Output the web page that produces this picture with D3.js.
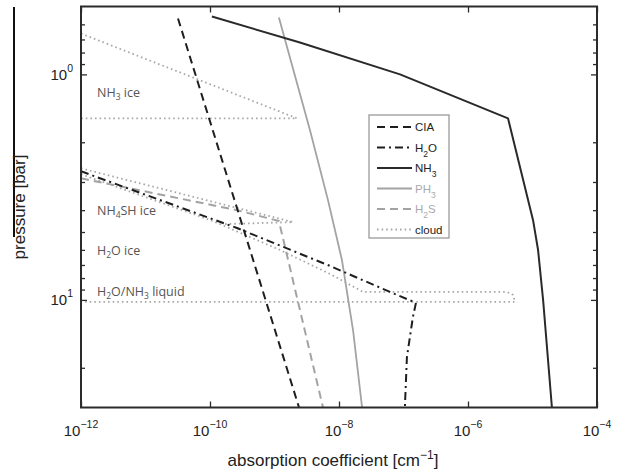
<!DOCTYPE html>
<html><head><meta charset="utf-8">
<script src="https://cdn.jsdelivr.net/npm/d3@7"></script>
<style>body{margin:0;background:#fff}svg{display:block}</style>
</head><body><svg id="c" width="619" height="474"></svg>
<script>
// ---- data (absorption coefficient [cm^-1], pressure [bar]) ----
const xTicks = [1e-12, 1e-10, 1e-8, 1e-6, 1e-4];
const xTickExp = ["\u221212", "\u221210", "\u22128", "\u22126", "\u22124"];
const yTicks = [1, 10];
const yTickExp = ["0", "1"];
const yMinor = [0.6, 0.7, 0.8, 0.9, 2, 3, 4, 5, 6, 7, 8, 9, 20];

const cia = [[3.19e-11, 0.565], [2.40e-9, 30]];
const h2o = [[1e-12, 2.69], [2.62e-10, 4.80], [7.24e-9, 7.07], [6.18e-8, 9.22], [1.56e-7, 10.3], [1.40e-7, 11.9], [1.13e-7, 17.9], [1.05e-7, 30]];
const nh3 = [[1.07e-10, 0.554], [2.48e-9, 0.722], [8.83e-8, 1.0], [4.17e-6, 1.566], [1.02e-5, 4.43], [1.22e-5, 6.01], [1.46e-5, 10], [2.00e-5, 30]];
const ph3 = [[1.17e-9, 0.56], [3.55e-9, 1.77], [6.75e-9, 3.61], [1.11e-8, 6.65], [1.65e-8, 13.6], [2.28e-8, 30]];
const h2s = [[1e-12, 2.89], [2.62e-10, 4.00], [1.17e-9, 4.47], [5.65e-9, 30]];
const cloudNH3 = [[1e-12, 0.659], [2.23e-9, 1.566], [1e-12, 1.566]];
const cloudNH4SH = [[1e-12, 2.61], [1.94e-9, 4.52], [1.71e-10, 4.61]];
const cloudH2O = [[1e-12, 2.77], [1.11e-10, 4.47], [1.22e-9, 6.01], [7.24e-9, 7.67], [2.36e-8, 9.22], [4.03e-6, 9.22], [4.99e-6, 9.50], [5.36e-6, 10.2], [1e-12, 10.2]];

const legendNames = [["CIA", ""], ["H", "2", "O"], ["NH", "3", ""], ["PH", "3", ""], ["H", "2", "S"], ["cloud", ""]];
const regionLabels = [
  {p: 1.26, parts: ["NH", "3", " ice"]},
  {p: 4.2, parts: ["NH", "4", "SH ice"]},
  {p: 6.35, parts: ["H", "2", "O ice"]},
  {p: 9.65, parts: ["H", "2", "O/NH", "3", " liquid"]}
];

// ---- layout ----
const L = 81, R = 597, T = 6.5, B = 407.5;
const svg = d3.select("#c");
const x = d3.scaleLog().domain([1e-12, 1e-4]).range([L, R]);
const y = d3.scaleLog().domain([0.5, 30]).range([T, B]);

svg.append("rect").attr("width", 619).attr("height", 474).attr("fill", "#fff");
svg.append("defs").append("clipPath").attr("id", "clip")
  .append("rect").attr("x", L).attr("y", T).attr("width", R - L).attr("height", B - T);

// scan artifact line at left
svg.append("line").attr("x1", 14).attr("x2", 14).attr("y1", 7).attr("y2", 237)
  .attr("stroke", "#111").attr("stroke-width", 2);

const styles = {
  cia: {stroke: "#1e1e1e", w: 2, dash: "8,5"},
  h2o: {stroke: "#1e1e1e", w: 2, dash: "8,4,2,4"},
  nh3: {stroke: "#2a2a2a", w: 2, dash: null},
  ph3: {stroke: "#a3a3a3", w: 1.8, dash: null},
  h2s: {stroke: "#a3a3a3", w: 2, dash: "8,5"},
  cloud: {stroke: "#a8a8a8", w: 1.8, dash: "1.6,3"}
};

const line = d3.line().x(d => x(d[0])).y(d => y(d[1]));
const g = svg.append("g").attr("clip-path", "url(#clip)");
function draw(data, s) {
  g.append("path").datum(data).attr("d", line).attr("fill", "none")
    .attr("stroke", s.stroke).attr("stroke-width", s.w)
    .attr("stroke-dasharray", s.dash).attr("stroke-linejoin", "round");
}
draw(cloudNH3, styles.cloud);
draw(cloudNH4SH, styles.cloud);
draw(cloudH2O, styles.cloud);
draw(ph3, styles.ph3);
draw(h2s, styles.h2s);
draw(cia, styles.cia);
draw(h2o, styles.h2o);
draw(nh3, styles.nh3);

// region labels
regionLabels.forEach(r => {
  const t = svg.append("text").attr("x", 97).attr("y", y(r.p))
    .attr("font-family", "Open Sans").attr("font-size", 12.5).attr("fill", "#555");
  r.parts.forEach((s, i) => {
    const sub = i % 2 === 1;
    t.append("tspan").text(s).attr("font-size", sub ? 8.5 : 12.5)
      .attr("dy", sub ? 3 : (i > 0 ? -3 : 0));
  });
});

// axes
const axisCol = "#2b2b2b";
function styleAxis(sel) {
  sel.select(".domain").remove();
  sel.selectAll("line").attr("stroke", axisCol).attr("stroke-width", 1.3);
}
svg.append("g").attr("transform", `translate(0,${B})`)
  .call(d3.axisBottom(x).tickValues(xTicks).tickSize(-6).tickFormat("")).call(styleAxis);
svg.append("g").attr("transform", `translate(0,${T})`)
  .call(d3.axisTop(x).tickValues(xTicks).tickSize(-6).tickFormat("")).call(styleAxis);
svg.append("g").attr("transform", `translate(${L},0)`)
  .call(d3.axisLeft(y).tickValues(yTicks).tickSize(-6).tickFormat("")).call(styleAxis);
svg.append("g").attr("transform", `translate(${L},0)`)
  .call(d3.axisLeft(y).tickValues(yMinor).tickSize(-4).tickFormat("")).call(styleAxis);
svg.append("g").attr("transform", `translate(${R},0)`)
  .call(d3.axisRight(y).tickValues(yTicks).tickSize(-6).tickFormat("")).call(styleAxis);
svg.append("g").attr("transform", `translate(${R},0)`)
  .call(d3.axisRight(y).tickValues(yMinor).tickSize(-4).tickFormat("")).call(styleAxis);
svg.append("rect").attr("x", L).attr("y", T).attr("width", R - L).attr("height", B - T)
  .attr("fill", "none").attr("stroke", axisCol).attr("stroke-width", 2);

// tick labels
xTicks.forEach((v, i) => {
  const t = svg.append("text").attr("x", x(v)).attr("y", 436).attr("text-anchor", "middle")
    .attr("font-family", "Liberation Sans").attr("font-size", 15).attr("fill", "#222");
  t.append("tspan").text("10");
  t.append("tspan").text(xTickExp[i]).attr("font-size", 10.5).attr("dy", -8);
});
yTicks.forEach((v, i) => {
  const t = svg.append("text").attr("x", 73).attr("y", y(v) + 5.5).attr("text-anchor", "end")
    .attr("font-family", "Liberation Sans").attr("font-size", 15).attr("fill", "#222");
  t.append("tspan").text("10");
  t.append("tspan").text(yTickExp[i]).attr("font-size", 10.5).attr("dy", -8);
});

// axis titles
const xt = svg.append("text").attr("x", 333).attr("y", 466).attr("text-anchor", "middle")
  .attr("font-family", "Liberation Sans").attr("font-size", 17).attr("fill", "#222");
xt.append("tspan").text("absorption coefficient [cm");
xt.append("tspan").text("\u22121").attr("font-size", 12).attr("dy", -7);
xt.append("tspan").text("]").attr("dy", 7);
svg.append("text").attr("transform", "translate(25,207) rotate(-90)").attr("text-anchor", "middle")
  .attr("font-family", "Liberation Sans").attr("font-size", 17).attr("fill", "#222")
  .text("pressure [bar]");

// legend
const lg = svg.append("g");
lg.append("rect").attr("x", 369).attr("y", 115).attr("width", 80).attr("height", 123)
  .attr("fill", "#fff").attr("stroke", "#9a9a9a").attr("stroke-width", 1.3);
const legendStyles = [styles.cia, styles.h2o, styles.nh3, styles.ph3, styles.h2s, styles.cloud];
const legendText = ["#222", "#222", "#222", "#aaa", "#aaa", "#222"];
legendNames.forEach((nm, i) => {
  const yy = 127 + i * 20.5;
  const s = legendStyles[i];
  lg.append("line").attr("x1", 377).attr("x2", 412).attr("y1", yy).attr("y2", yy)
    .attr("stroke", s.stroke).attr("stroke-width", s.w).attr("stroke-dasharray", s.dash);
  const t = lg.append("text").attr("x", 415).attr("y", yy + 4)
    .attr("font-family", "Liberation Sans").attr("font-size", 11.5).attr("fill", legendText[i]);
  nm.forEach((p, j) => {
    const sub = j === 1;
    t.append("tspan").text(p).attr("font-size", sub ? 8.5 : 11.5)
      .attr("dy", sub ? 5 : (j > 1 ? -5 : 0));
  });
});
</script>
</body></html>
